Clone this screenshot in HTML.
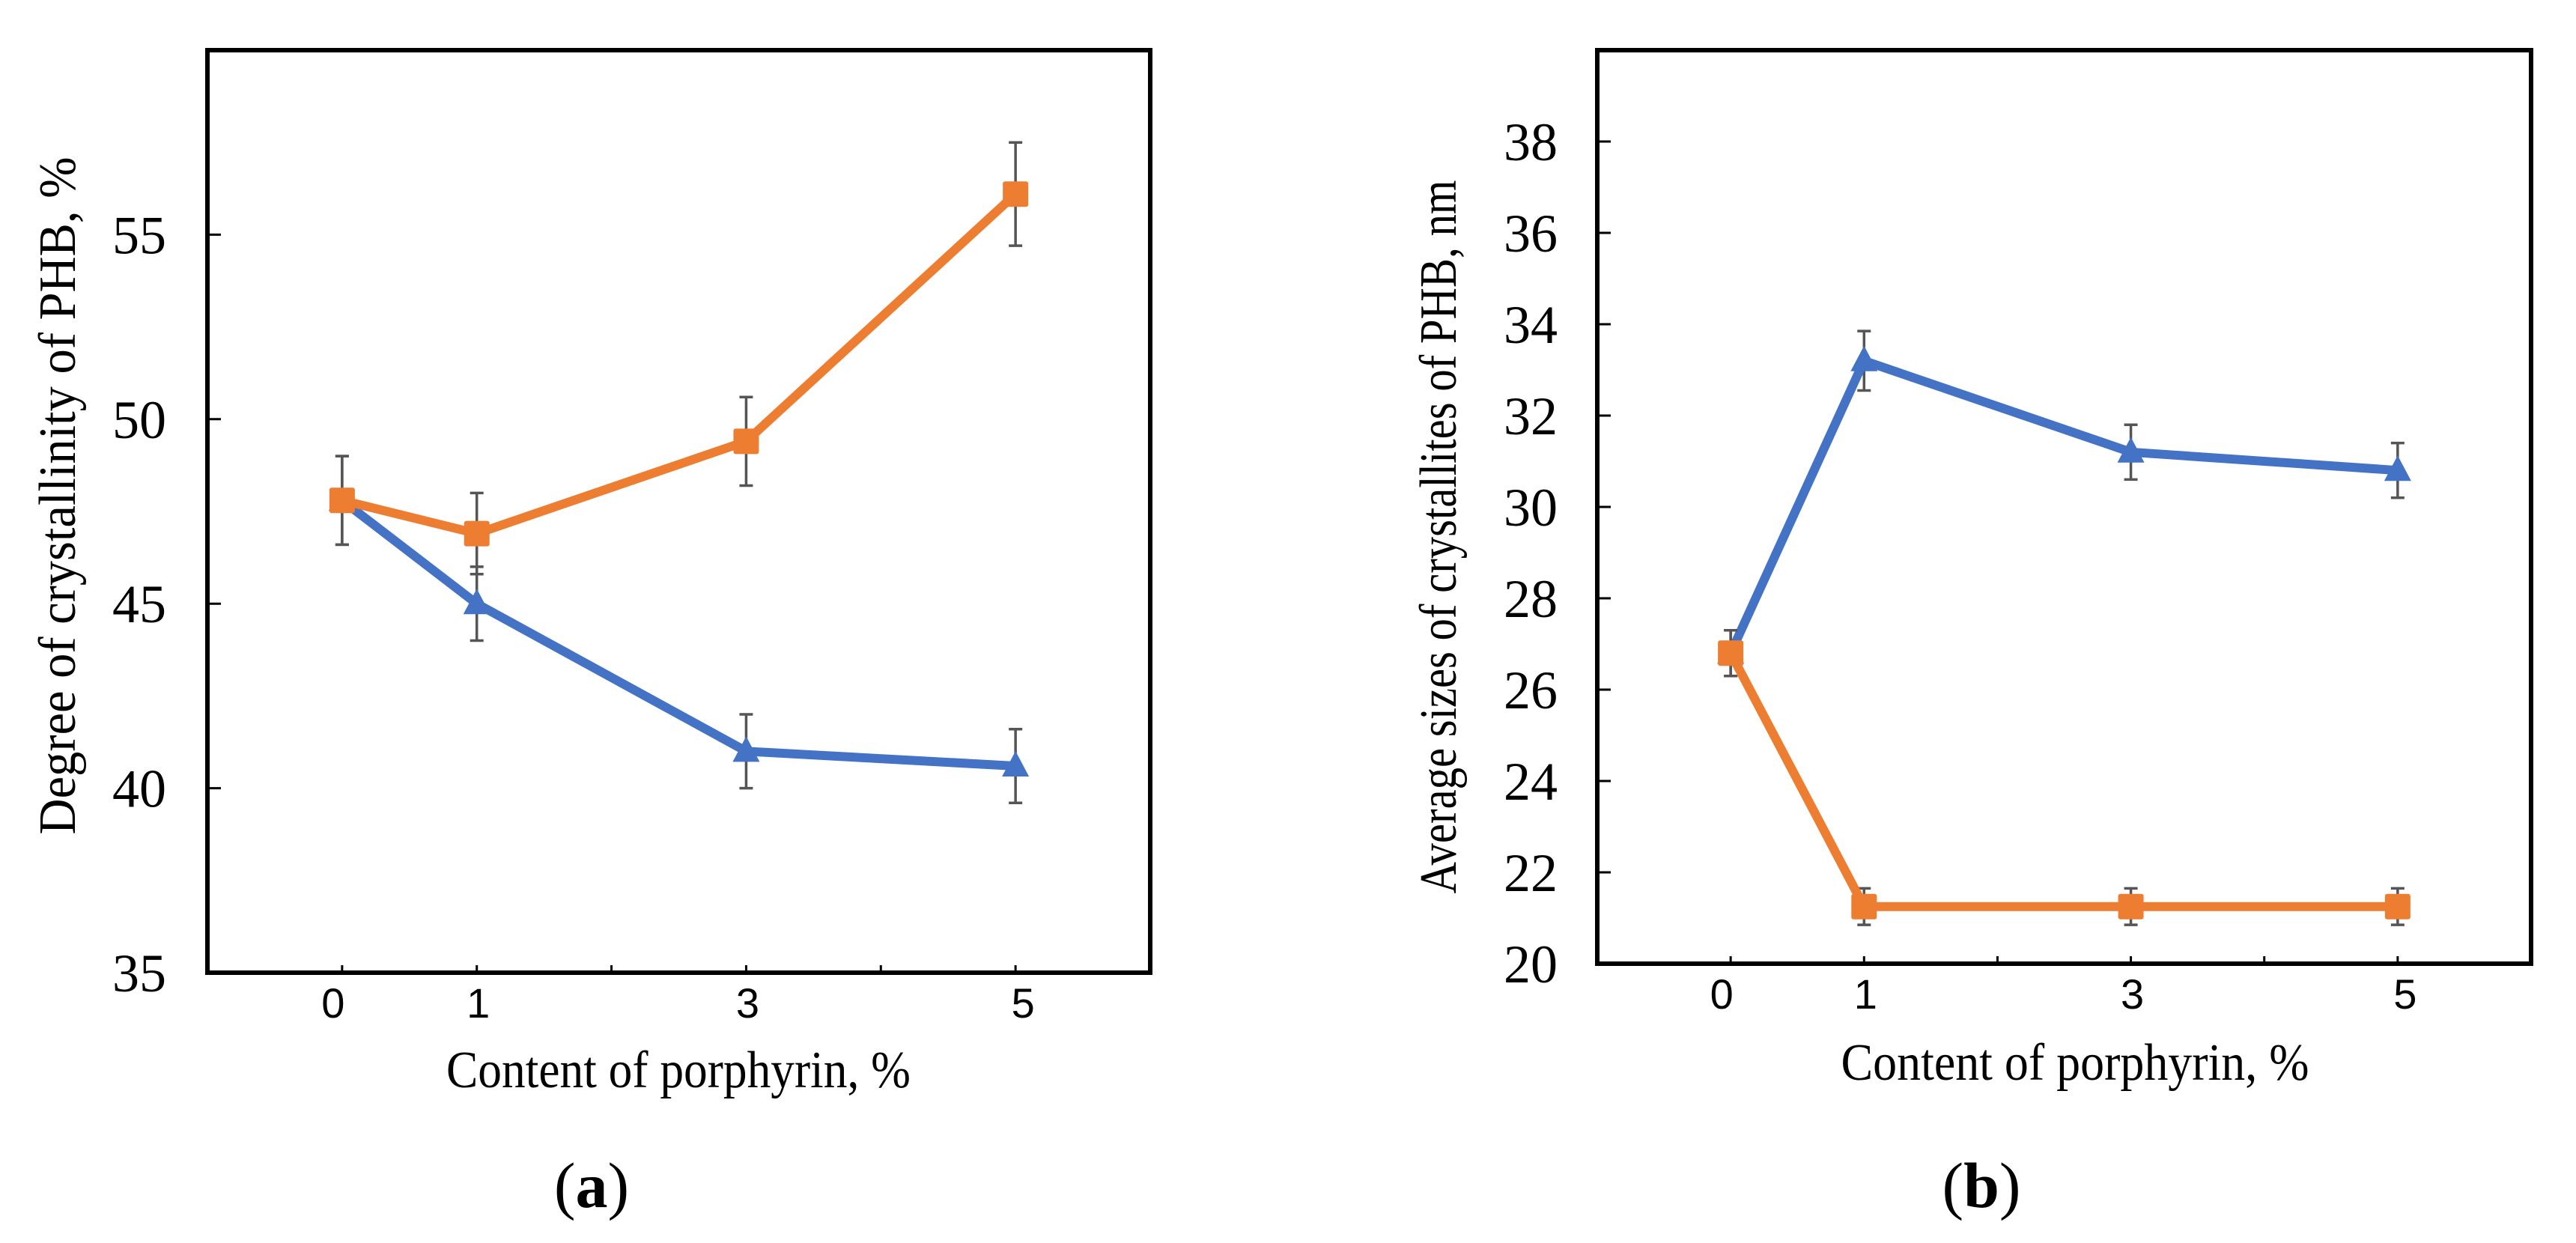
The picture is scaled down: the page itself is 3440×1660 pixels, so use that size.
<!DOCTYPE html>
<html><head><meta charset="utf-8"><style>
html,body{margin:0;padding:0;background:#fff;}
svg{display:block;}
</style></head><body>
<svg id="root" width="3440" height="1660" viewBox="0 0 3440 1660" xmlns="http://www.w3.org/2000/svg">
<rect x="0" y="0" width="3440" height="1660" fill="#fff"/>
<g id="pa"></g>
<g id="pb"></g>
<text x="790" y="1612" text-anchor="middle" font-family="Liberation Serif, serif" font-size="86">(<tspan font-weight="bold">a</tspan>)</text>
<text x="2646" y="1612" text-anchor="middle" font-family="Liberation Serif, serif" font-size="86">(<tspan font-weight="bold">b</tspan>)</text>
</svg>
<script>
const xCats = [0, 1, 3, 5];
const xTickLabels = ["0", "1", "3", "5"];
const aOrange = [47.8, 46.9, 49.4, 56.1];
const aOrangeErr = [1.2, 1.1, 1.2, 1.4];
const aBlue = [47.8, 45.0, 41.0, 40.6];
const aBlueErr = [1.2, 1.0, 1.0, 1.0];
const aYTicks = [35, 40, 45, 50, 55];
const bOrange = [26.8, 21.25, 21.25, 21.25];
const bOrangeErr = [0.5, 0.4, 0.4, 0.4];
const bBlue = [26.8, 33.2, 31.2, 30.8];
const bBlueErr = [0.5, 0.65, 0.6, 0.6];
const bYTicks = [20, 22, 24, 26, 28, 30, 32, 34, 36, 38];

const NS = "http://www.w3.org/2000/svg";
function mk(parent, tag, attrs, text) {
  const e = document.createElementNS(NS, tag);
  for (const k in attrs) e.setAttribute(k, attrs[k]);
  if (text !== undefined) e.textContent = text;
  parent.appendChild(e);
  return e;
}

function panel(g, cfg) {
  const L = cfg.left, R = cfg.right, T = cfg.top, B = cfg.bottom;
  const xs = v => L + (v - (-1)) / 7 * (R - L);
  const ys = v => B - (v - cfg.ymin) / (cfg.ymax - cfg.ymin) * (B - T);
  const frame = mk(g, "rect", {x: L, y: T, width: R - L, height: B - T, fill: "none", stroke: "#000", "stroke-width": 6});
  
  
  cfg.yTicks.forEach(v => {
    const t = mk(g, "line", {x1: L, x2: L + 18, y1: ys(v), y2: ys(v), stroke: "#000", "stroke-width": 3});
    
    
    const lb = mk(g, "text", {x: cfg.yLabelRight, y: ys(v) + 25, "text-anchor": "end", "font-family": "Liberation Serif, serif", "font-size": 72, fill: "#000"}, String(v));
    
    
  });
  [0, 1, 2, 3, 4, 5].forEach(v => {
    const t = mk(g, "line", {x1: xs(v), x2: xs(v), y1: B, y2: B - 10, stroke: "#000", "stroke-width": 3});
    
    
  });
  xCats.forEach((v, i) => {
    const lb = mk(g, "text", {x: xs(v) - (i === 0 ? 12 : (i === 3 ? -10 : -2)), y: B + 60, "text-anchor": "middle", "font-family": "Liberation Sans, sans-serif", "font-size": 56, fill: "#000"}, xTickLabels[i]);
    
    
  });
  const xt = mk(g, "text", {x: cfg.xTitleX, y: cfg.xTitleY, "text-anchor": "middle", "font-family": "Liberation Serif, serif", "font-size": 70, textLength: cfg.xTitleLen, lengthAdjust: "spacingAndGlyphs", fill: "#000"}, "Content of porphyrin, %");
  
  
  const yt = mk(g, "text", {x: 0, y: 0, "text-anchor": "middle", "font-family": "Liberation Serif, serif", "font-size": 70, textLength: cfg.yTitleLen, lengthAdjust: "spacingAndGlyphs", fill: "#000", transform: `translate(${cfg.yTitleX},${cfg.yTitleY}) rotate(-90)`}, cfg.yTitle);
  
  

  function series(vals, errs, color, marker, name) {
    const sg = mk(g, "g", {});
    
    
    vals.forEach((v, i) => {
      const x = xs(xCats[i]);
      const e = mk(sg, "path", {d: `M${x},${ys(v - errs[i])}V${ys(v + errs[i])}M${x - 9},${ys(v - errs[i])}H${x + 9}M${x - 9},${ys(v + errs[i])}H${x + 9}`, stroke: "#555", "stroke-width": 3.5, fill: "none"});
      
      
    });
    const pts = vals.map((v, i) => xs(xCats[i]) + "," + ys(v)).join(" ");
    const ln = mk(sg, "polyline", {points: pts, fill: "none", stroke: color, "stroke-width": 12, "stroke-linejoin": "round"});
    
    
    vals.forEach((v, i) => {
      const x = xs(xCats[i]), y = ys(v);
      let m;
      if (marker === "square") {
        m = mk(sg, "rect", {x: x - 17, y: y - 17, width: 34, height: 34, rx: 3, fill: color});
      } else {
        m = mk(sg, "polygon", {points: `${x},${y - 20} ${x - 18},${y + 14} ${x + 18},${y + 14}`, fill: color});
      }
      
      
    });
  }
  series(cfg.blue, cfg.blueErr, "#4472C4", "tri", "series-blue");
  series(cfg.orange, cfg.orangeErr, "#ED7D31", "square", "series-orange");
}

panel(document.getElementById("pa"), {
  left: 277, right: 1536, top: 67, bottom: 1299, ymin: 35, ymax: 60,
  yTicks: aYTicks, yLabelRight: 222, orange: aOrange, orangeErr: aOrangeErr, blue: aBlue, blueErr: aBlueErr,
  xTitleX: 906, xTitleY: 1452, xTitleLen: 620,
  yTitle: "Degree of crystallinity of PHB, %", yTitleX: 100, yTitleY: 662, yTitleLen: 905
});
panel(document.getElementById("pb"), {
  left: 2133, right: 3380, top: 67, bottom: 1287, ymin: 20, ymax: 40,
  yTicks: bYTicks, yLabelRight: 2080, orange: bOrange, orangeErr: bOrangeErr, blue: bBlue, blueErr: bBlueErr,
  xTitleX: 2771, xTitleY: 1442, xTitleLen: 625,
  yTitle: "Average sizes of crystallites of PHB, nm", yTitleX: 1944, yTitleY: 717, yTitleLen: 953
});
</script>
</body></html>
